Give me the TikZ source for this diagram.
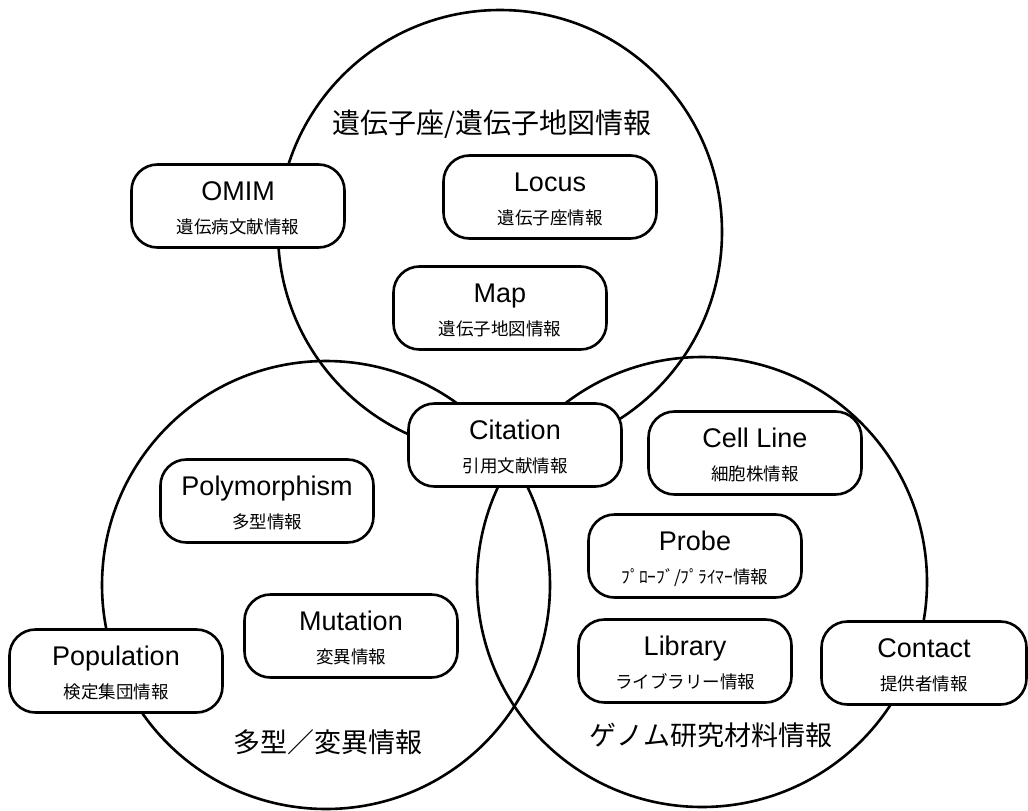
\documentclass[tikz,border=0pt]{standalone}
\usepackage{fontspec}
\setmainfont{Liberation Sans}
\newfontfamily\jpfont{Noto Sans CJK JP}
\newcommand\dbnode[5]{%
  \node[dbbox] (#1) at (#2,#3) {};
  \node[entext] (#1-en) at ([yshift=5.5pt]#1.center) {#4};
  \node[jptext] (#1-jp) at ([yshift=-27pt]#1.center) {#5};}
\begin{document}
\begin{tikzpicture}[x=1pt,y=-1pt,
  venn/.style={draw, circle, line width=2.6pt, inner sep=0pt},
  dbbox/.style={draw, line width=2.6pt, fill=white, rounded corners=26pt,
    minimum width=213pt, minimum height=83pt, inner sep=0pt},
  entext/.style={font=\fontsize{27}{30}\selectfont, anchor=base, inner sep=0pt},
  jptext/.style={font=\jpfont\fontsize{17.5}{20}\selectfont, anchor=base, inner sep=0pt},
  title/.style={font=\jpfont\fontsize{28}{32}\selectfont, anchor=base, inner sep=0pt}]
\useasboundingbox (0,0) rectangle (1028,811);
% circles
\node[venn, minimum size=444pt] (locuscircle) at (500,232) {};
\node[venn, minimum size=448pt] (polycircle) at (326,585) {};
\node[venn, minimum size=450pt] (genomecircle) at (702,582) {};
% titles
\node[title] (t1) at (492,133) {遺伝子座/遺伝子地図情報};
\node[title, font=\jpfont\fontsize{27}{32}\selectfont] (t2) at (328,752) {多型／変異情報};
\node[title, font=\jpfont\fontsize{27}{32}\selectfont] (t3) at (711,745) {ゲノム研究材料情報};
% boxes
\dbnode{omim}{238}{206}{OMIM}{遺伝病文献情報}
\dbnode{locus}{550}{197}{Locus}{遺伝子座情報}
\dbnode{map}{500}{308}{Map}{遺伝子地図情報}
\dbnode{citation}{515}{445}{Citation}{引用文献情報}
\dbnode{cellline}{755}{453}{Cell Line}{細胞株情報}
\dbnode{poly}{267}{501}{Polymorphism}{多型情報}
\dbnode{probe}{695}{556}{Probe}{ﾌﾟﾛｰﾌﾞ/ﾌﾟﾗｲﾏｰ情報}
\dbnode{mutation}{351}{636}{Mutation}{変異情報}
\dbnode{population}{116}{671}{Population}{検定集団情報}
\dbnode{library}{685}{661}{Library}{ライブラリー情報}
\begin{scope}[dbbox/.append style={minimum width=205pt}]
\dbnode{contact}{924}{663}{Contact}{提供者情報}
\end{scope}
\end{tikzpicture}
\end{document}
